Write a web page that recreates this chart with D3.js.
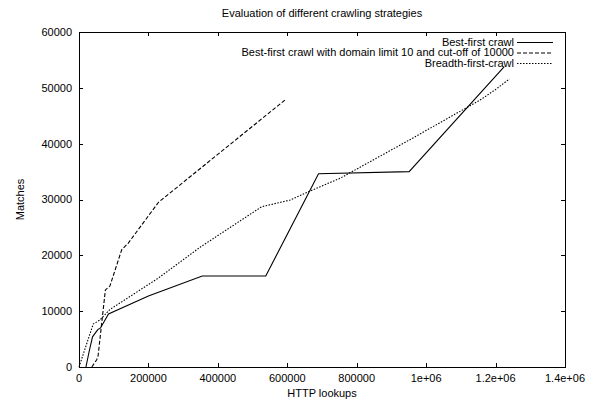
<!DOCTYPE html>
<html>
<head>
<meta charset="utf-8">
<script src="https://d3js.org/d3.v7.min.js"></script>
<style>
  body { margin: 0; background: #fff; }
  text { font-family: "Liberation Sans", Arial, sans-serif; font-size: 11px; fill: #000; }
</style>
</head>
<body>
<div id="vis"></div>
<script>
var xTicks = [0, 200000, 400000, 600000, 800000, 1000000, 1200000, 1400000];
var xTickLabels = ['0', '200000', '400000', '600000', '800000', '1e+06', '1.2e+06', '1.4e+06'];
var yTicks = [0, 10000, 20000, 30000, 40000, 50000, 60000];

var seriesNames = ['Best-first crawl', 'Best-first crawl with domain limit 10 and cut-off of 10000', 'Breadth-first-crawl'];

var bestX = [20000, 30000, 39000, 54000, 62000, 85000, 200000, 355000, 538000, 690000, 951000, 1225000];
var bestY = [0, 3000, 5400, 6700, 7000, 9500, 12700, 16300, 16300, 34600, 35000, 53800];

var limitX = [37000, 51000, 55000, 76000, 89000, 123000, 142000, 229000, 593000];
var limitY = [0, 1300, 2000, 13800, 14500, 21000, 22200, 29500, 47800];

var breadthX = [0, 41000, 60000, 89000, 228000, 350000, 526000, 608000, 665000, 752000, 950000, 1155000, 1200000, 1240000];
var breadthY = [0, 7700, 8400, 10300, 15900, 21500, 28700, 29900, 31500, 33800, 40600, 47800, 49700, 51600];

var margin = { top: 32, right: 35, bottom: 33, left: 79 };
var width = 600;
var height = 400;
var drawWidth = width - margin.left - margin.right;
var drawHeight = height - margin.top - margin.bottom;

var svg = d3.select('#vis')
            .append('svg')
            .attr('width', width)
            .attr('height', height);

var g = svg.append('g')
           .attr('transform', 'translate(' + margin.left + ',' + margin.top + ')');

var xScale = d3.scaleLinear().domain([0, 1400000]).range([0, drawWidth]);
var yScale = d3.scaleLinear().domain([0, 60000]).range([drawHeight, 0]);

var tickLen = 4;

// ticks point inward and are mirrored on the top / right edges
xTicks.forEach(function(t, i) {
    var x = Math.round(xScale(t)) + 0.5;
    g.append('line').attr('x1', x).attr('x2', x).attr('y1', drawHeight).attr('y2', drawHeight - tickLen)
        .attr('stroke', '#000');
    g.append('line').attr('x1', x).attr('x2', x).attr('y1', 0).attr('y2', tickLen)
        .attr('stroke', '#000');
    g.append('text').attr('x', xScale(t)).attr('y', drawHeight + 15)
        .attr('text-anchor', 'middle').text(xTickLabels[i]);
});

yTicks.forEach(function(t) {
    var y = Math.round(yScale(t)) + 0.5;
    g.append('line').attr('x1', 0).attr('x2', tickLen).attr('y1', y).attr('y2', y)
        .attr('stroke', '#000');
    g.append('line').attr('x1', drawWidth).attr('x2', drawWidth - tickLen).attr('y1', y).attr('y2', y)
        .attr('stroke', '#000');
    g.append('text').attr('x', -7).attr('y', yScale(t)).attr('dy', '0.35em')
        .attr('text-anchor', 'end').text(t);
});

var line = d3.line()
             .x(function(d) { return xScale(d[0]); })
             .y(function(d) { return yScale(d[1]); });

var series = [
    { xs: bestX, ys: bestY, dash: null },
    { xs: limitX, ys: limitY, dash: '4,2' },
    { xs: breadthX, ys: breadthY, dash: '1.5,1.5' }
];

series.forEach(function(s) {
    var pts = s.xs.map(function(x, i) { return [x, s.ys[i]]; });
    g.append('path')
        .datum(pts)
        .attr('d', line)
        .attr('fill', 'none')
        .attr('stroke', '#000')
        .attr('stroke-width', 1.1)
        .attr('stroke-dasharray', s.dash);
});

// frame
g.append('rect')
    .attr('x', 0.5).attr('y', 0.5)
    .attr('width', drawWidth).attr('height', drawHeight)
    .attr('fill', 'none').attr('stroke', '#000');

// legend
var legend = g.append('g').attr('transform', 'translate(' + (drawWidth - 51) + ',10)');
seriesNames.forEach(function(name, i) {
    var y = i * 10.5;
    legend.append('text').attr('x', 0).attr('y', y).attr('dy', '0.35em')
        .attr('text-anchor', 'end').text(name);
    legend.append('line')
        .attr('x1', 3).attr('x2', 39).attr('y1', y + 0.5).attr('y2', y + 0.5)
        .attr('stroke', '#000')
        .attr('stroke-dasharray', series[i].dash);
});

svg.append('text')
    .attr('x', margin.left + drawWidth / 2).attr('y', 17)
    .attr('text-anchor', 'middle')
    .text('Evaluation of different crawling strategies');

svg.append('text')
    .attr('x', margin.left + drawWidth / 2).attr('y', 397)
    .attr('text-anchor', 'middle')
    .text('HTTP lookups');

svg.append('text')
    .attr('transform', 'translate(24,' + (margin.top + drawHeight / 2) + ') rotate(-90)')
    .attr('text-anchor', 'middle')
    .text('Matches');
</script>
</body>
</html>
